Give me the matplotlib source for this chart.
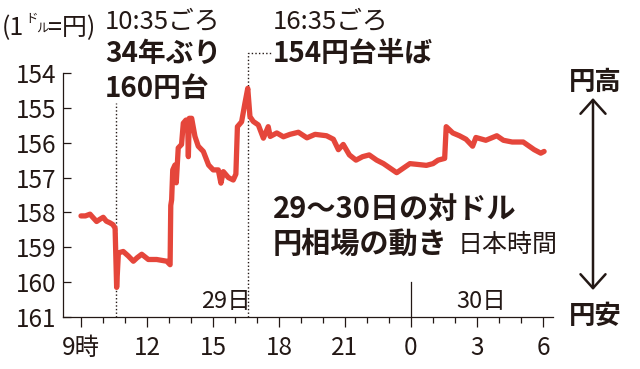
import matplotlib
matplotlib.use('Agg')
import matplotlib.pyplot as plt

plt.rcParams['font.family'] = ['Noto Sans CJK JP', 'DejaVu Sans']

# --- データ (29日9時からの経過時間, 円/ドル) ---
hours = [9.0, 9.2, 9.41, 9.55, 9.71, 9.85, 10.01, 10.15, 10.32, 10.45, 10.55,
         10.62, 10.7, 10.92, 11.15, 11.38, 11.55, 11.76, 12.06, 12.44, 12.9,
         13.05, 13.08, 13.12, 13.17, 13.27, 13.33, 13.42, 13.57, 13.65, 13.77,
         13.85, 13.88, 13.92, 14.03, 14.18, 14.33, 14.56, 14.8, 15.01, 15.24,
         15.36, 15.47, 15.7, 15.92, 16.04, 16.11, 16.3, 16.45, 16.58, 16.68,
         16.83, 17.06, 17.29, 17.51, 17.6, 17.9, 18.2, 18.5, 18.88, 19.27,
         19.64, 20.16, 20.47, 20.7, 20.92, 21.2, 21.5, 21.8, 22.1, 22.44,
         22.75, 23.05, 23.35, 23.65, 23.95, 24.26, 24.7, 25.0, 25.23, 25.53,
         25.6, 25.7, 25.9, 26.2, 26.5, 26.8, 26.95, 27.4, 27.9, 28.2, 28.6,
         29.1, 29.6, 29.9, 30.05]
yen = [158.1, 158.1, 158.05, 158.15, 158.26, 158.2, 158.14, 158.25, 158.3, 158.35, 158.45,
       160.15, 159.16, 159.12, 159.25, 159.4, 159.3, 159.2, 159.35, 159.35, 159.4,
       159.5, 157.8, 157.64, 156.78, 156.64, 157.15, 156.15, 156.05, 155.44, 155.35,
       155.5, 156.4, 155.3, 155.3, 155.82, 156.1, 156.25, 156.64, 156.78, 156.78,
       157.16, 156.83, 157.0, 157.07, 156.9, 155.54, 155.4, 154.87, 154.44, 155.25,
       155.39, 155.49, 155.87, 155.54, 155.82, 155.72, 155.83, 155.76, 155.7, 155.86,
       155.76, 155.8, 155.9, 156.2, 156.05, 156.35, 156.5, 156.4, 156.35, 156.5,
       156.6, 156.73, 156.86, 156.73, 156.6, 156.62, 156.65, 156.6, 156.5, 156.45,
       155.54, 155.6, 155.72, 155.8, 155.9, 156.1, 155.85, 155.93, 155.8, 155.93, 155.98,
       155.98, 156.2, 156.3, 156.25]

x_major = [9, 12, 15, 18, 21, 24, 27, 30]
x_labels = ['9時', '12', '15', '18', '21', '0', '3', '6']
y_ticks = [154, 155, 156, 157, 158, 159, 160, 161]

ink = '#231815'
red = '#e5463b'

W, H = 640, 369
def px(x, y):
    return x / W, 1 - y / H

fig = plt.figure(figsize=(6.4, 3.69), dpi=100)
ax = fig.add_axes([63 / W, 1 - 317 / H, 490 / W, 244 / H])

ax.plot(hours, yen, color=red, lw=3.8, solid_joinstyle='round', solid_capstyle='round', zorder=3)

ax.set_ylim(161, 154)
ax.set_xlim(9 - 18 / 22, 9 + 472 / 22)

for s in ['top', 'right']:
    ax.spines[s].set_visible(False)
for s in ['left', 'bottom']:
    ax.spines[s].set_color(ink)
    ax.spines[s].set_linewidth(0.9)

ax.set_yticks(y_ticks)
ax.set_yticklabels([str(v) for v in y_ticks])
ax.set_xticks(x_major)
ax.set_xticklabels(x_labels)
ax.set_xticks(range(9, 31), minor=True)
ax.tick_params(axis='y', direction='in', length=6, width=0.9, color=ink,
               labelcolor=ink, labelsize=17.5, pad=5)
ax.tick_params(axis='x', which='major', direction='out', length=7, width=0.9,
               color=ink, labelcolor=ink, labelsize=17.5, pad=6)
ax.tick_params(axis='x', which='minor', direction='out', length=4.5, width=0.9, color=ink)

# 注記用の点線
t1 = 10 + 35 / 60
t2 = 16 + 35 / 60
ax.plot([t1, t1], [161, 154.86], ls=(0, (1, 1.6)), color=ink, lw=1, zorder=2)
ax.plot([t2, t2, 17.68], [161, 153.43, 153.43], ls=(0, (1, 1.6)), color=ink, lw=1,
        zorder=2, clip_on=False)
# 日付の区切り
ax.plot([24, 24], [161, 160.0], color=ink, lw=0.9)
ax.text(15.6, 160.75, '29日', ha='center', va='baseline', fontsize=17, color=ink)
ax.text(27.2, 160.75, '30日', ha='center', va='baseline', fontsize=17, color=ink)

# 単位
fig.text(*px(2, 35), '(1', fontsize=18, color=ink, va='baseline')
fig.text(*px(25, 22), 'ド', fontsize=9, color=ink, va='baseline')
fig.text(*px(36, 32), 'ル', fontsize=9, color=ink, va='baseline')
fig.text(*px(48, 35), '=円)', fontsize=18, color=ink, va='baseline')

# 注記
fig.text(*px(105, 28), '10:35ごろ', fontsize=18.5, color=ink, va='baseline')
fig.text(*px(105, 62), '34年ぶり', fontsize=20, fontweight='bold', color=ink, va='baseline')
fig.text(*px(105, 97), '160円台', fontsize=20, fontweight='bold', color=ink, va='baseline')
fig.text(*px(273, 28), '16:35ごろ', fontsize=18.5, color=ink, va='baseline')
fig.text(*px(273, 62), '154円台半ば', fontsize=20, fontweight='bold', color=ink, va='baseline')

fig.text(*px(273, 218), '29～30日の対ドル', fontsize=21, fontweight='bold', color=ink, va='baseline')
fig.text(*px(273, 253), '円相場の動き', fontsize=21, fontweight='bold', color=ink, va='baseline')
fig.text(*px(458, 252), '日本時間', fontsize=18, color=ink, va='baseline')

# 円高・円安の矢印
fig.text(*px(595, 90), '円高', fontsize=19, fontweight='bold', color=ink, ha='center', va='baseline')
fig.text(*px(595, 324), '円安', fontsize=19, fontweight='bold', color=ink, ha='center', va='baseline')
ax.annotate('', xy=(593, H - 98), xytext=(593, H - 290), xycoords='figure pixels',
            textcoords='figure pixels',
            arrowprops=dict(arrowstyle='<->,head_length=0.5,head_width=0.45',
                            mutation_scale=20, lw=1.8, color=ink,
                            shrinkA=0, shrinkB=0))

fig.savefig('out.png', dpi=100)
